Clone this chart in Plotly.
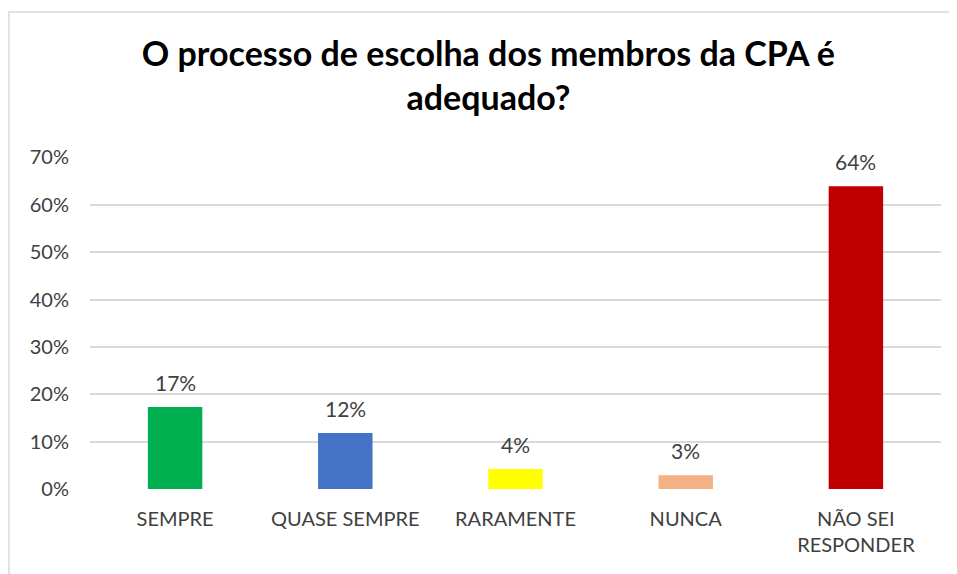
import plotly.graph_objects as go

# Dados do grafico
categorias = ["SEMPRE", "QUASE SEMPRE", "RARAMENTE", "NUNCA", "NÃO SEI<br>RESPONDER"]
percentuais = [0.173, 0.118, 0.042, 0.029, 0.639]
rotulos = ["17%", "12%", "4%", "3%", "64%"]
cores = ["#00B050", "#4472C4", "#FFFF00", "#F4B183", "#C00000"]
tick_vals = [0, 0.1, 0.2, 0.3, 0.4, 0.5, 0.6, 0.7]
tick_text = ["0%", "10%", "20%", "30%", "40%", "50%", "60%", "70%"]

fontFamily = "Lato, 'Open Sans', sans-serif"
textColor = "#404040"

fig = go.Figure(go.Bar(
    x=categorias,
    y=percentuais,
    marker=dict(color=cores, line=dict(width=0)),
    width=0.32,
    hoverinfo="x+y",
))

# rotulos de dados acima das barras
for cat, val, txt in zip(categorias, percentuais, rotulos):
    fig.add_annotation(
        x=cat, y=val, text=txt, showarrow=False,
        xanchor="center", yanchor="bottom", yshift=10,
        font=dict(family=fontFamily, size=21, color=textColor),
    )

fig.update_layout(
    width=957, height=574,
    paper_bgcolor="white", plot_bgcolor="white",
    margin=dict(l=82, r=24, t=149, b=93),
    showlegend=False,
    title=dict(
        text="<b>O processo de escolha dos membros da CPA é<br>adequado?</b>",
        x=0.502, xanchor="center", xref="container",
        y=0.899, yanchor="top", yref="container",
        font=dict(family=fontFamily, size=34, color="black"),
    ),
    xaxis=dict(
        showgrid=False, showline=False, zeroline=False,
        tickfont=dict(family=fontFamily, size=20, color=textColor),
        ticklabelstandoff=16,
    ),
    yaxis=dict(
        range=[0, 0.701],
        tickvals=tick_vals, ticktext=tick_text,
        showgrid=True, gridcolor="#d9d9d9", gridwidth=1.5,
        zeroline=False, showline=False,
        tickfont=dict(family=fontFamily, size=20, color=textColor),
        ticklabelstandoff=20,
    ),
    shapes=[dict(
        type="rect", xref="paper", yref="paper",
        x0=-0.0952, x1=1.04, y0=-0.3, y1=1.4367,
        line=dict(color="#d9d9d9", width=1.5),
        fillcolor="rgba(0,0,0,0)", layer="below",
    )],
)

fig.write_html("out.html")
